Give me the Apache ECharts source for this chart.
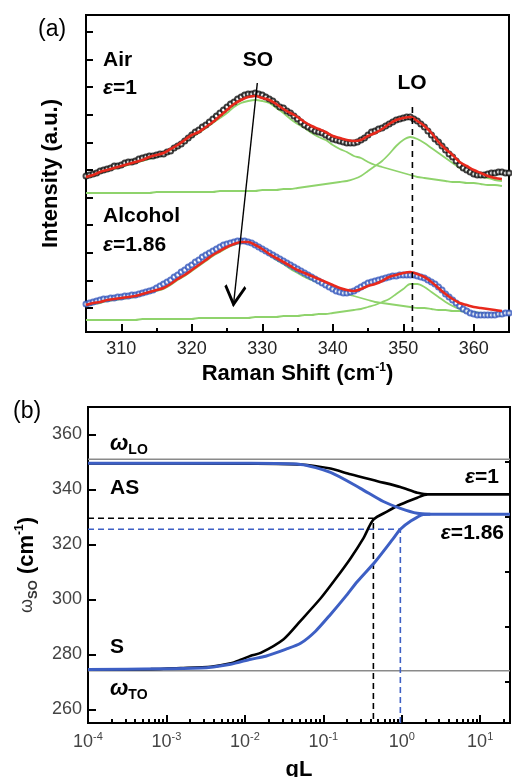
<!DOCTYPE html>
<html><head><meta charset="utf-8">
<script src="https://cdn.jsdelivr.net/npm/echarts@6/dist/echarts.min.js"></script>
<style>html,body{margin:0;padding:0;background:#fff}#c{width:512px;height:777px}</style>
</head><body><div id="c"></div>
<script>
// ---------- Panel (a) data: Raman spectra ----------
const fitShift = [305,306,307,308,309,310,311,312,313,314,315,316,317,318,319,320,321,322,323,324,325,326,327,328,329,330,331,332,333,334,335,336,337,338,339,340,341,342,343,344,345,346,347,348,349,350,351,352,353,354,355,356,357,358,359,360,361,362,363,364];
const dataShift = [305,305.5,306,306.5,307,307.5,308,308.5,309,309.5,310,310.5,311,311.5,312,312.5,313,313.5,314,314.5,315,315.5,316,316.5,317,317.5,318,318.5,319,319.5,320,320.5,321,321.5,322,322.5,323,323.5,324,324.5,325,325.5,326,326.5,327,327.5,328,328.5,329,329.5,330,330.5,331,331.5,332,332.5,333,333.5,334,334.5,335,335.5,336,336.5,337,337.5,338,338.5,339,339.5,340,340.5,341,341.5,342,342.5,343,343.5,344,344.5,345,345.5,346,346.5,347,347.5,348,348.5,349,349.5,350,350.5,351,351.5,352,352.5,353,353.5,354,354.5,355,355.5,356,356.5,357,357.5,358,358.5,359,359.5,360,360.5,361,361.5,362,362.5,363,363.5,364,364.5,365];

const airData = [156,157,158,159,161,162,163,164,166,166,167,169,170,170,171,173,174,175,176,176,177,178,178,180,181,184,186,188,191,194,197,200,202,205,207,210,213,216,219,222,225,228,230,233,235,237,238,238,239,238,237,235,233,231,228,225,224,221,219,216,213,210,207,205,203,201,200,199,197,195,193,192,191,190,189,189,189,190,192,194,197,200,201,203,204,206,208,210,212,213,214,215,215,213,211,208,205,201,197,193,190,186,182,178,175,171,167,164,162,160,158,157,157,157,158,159,159,160,160,159,159];
const airFit = [155,157,160,162,164,166,168,170,172,175,177,179,183,187,192,197,200,205,210,216,222,228,232,235,236,234,232,228,223,219,215,210,206,203,200,196,194,192,191,192,196,199,203,208,212,214,215,211,206,199,190,183,177,170,166,162,159,156,154,153];
const airSO = [154,156,159,161,163,165,167,169,171,173,175,178,181,185,190,195,199,204,209,214,219,225,229,231,232,231,229,224,219,213,208,204,199,195,192,187,183,180,176,174,170,167,165,163,161,159,157,155,154,153,152,151,150,150,149,149,148,147,147,146];
const airLO = [139,139,139,139,139,139,139,139,139,139,140,140,140,140,140,140,140,140,140,141,141,141,141,141,141,142,142,142,143,143,144,145,146,147,148,149,150,151,153,156,161,166,171,178,186,192,195,193,189,184,179,174,169,164,161,158,155,154,152,151];

const alcData = [28,29,30,31,32,33,33,34,34,35,35,36,36,37,37,38,39,40,41,42,44,46,48,50,52,55,57,60,62,65,67,70,72,75,77,79,81,83,85,87,88,89,90,91,91,91,90,89,87,85,83,81,79,77,75,73,71,69,67,65,63,61,59,57,55,53,51,49,47,45,43,41,40,39,39,40,41,43,45,47,49,50,51,52,53,54,55,56,56,57,57,57,57,57,56,55,54,52,50,48,45,42,38,35,32,29,26,23,21,19,18,17,17,17,17,17,17,18,18,19,19];
const alcFit = [27,29,30,32,33,34,35,36,38,40,42,44,48,53,57,62,67,72,77,81,85,88,90,90,87,83,78,74,70,66,62,59,56,53,50,47,44,42,41,43,46,48,51,55,57,59,60,58,55,50,44,38,33,29,27,25,24,23,22,21];
const alcSO = [26,28,29,31,32,33,34,35,37,39,41,43,47,52,56,61,66,71,76,80,84,87,89,89,86,82,77,72,68,63,59,55,52,49,46,43,41,38,36,34,32,30,29,28,27,26,25,24,24,23,22,22,21,21,20,20,19,18,18,17];
const alcLO = [12,12,12,12,12,12,12,12,13,13,13,13,13,13,13,13,14,14,14,14,14,14,14,14,15,15,15,15,16,16,16,17,17,18,18,19,20,21,22,23,25,27,30,33,38,43,48,48,45,40,35,30,26,23,21,19,18,17,17,16];

const xLabelsA = [310,320,330,340,350,360];
const xMinorA = [305,315,325,335,345,355,365];
const yTicksA = [24,51.6,79.2,106.8,134.4,162,189.6,217.2,244.8,272.4,300];
const loLineShift = 351.3, loLineTop = 225;
const arrowStart = [329.3, 249], arrowEnd = [325.9, 26];

// ---------- Panel (b) data: dispersion ----------
const qlBlackAS = [0.0001,0.0119,0.0513,0.1235,0.222,0.49,0.96,1.58,2.12];
const wBlackAS  = [349.5,349.4,349.1,347.6,345.5,343,340.9,338.8,338.2];
const qlBlackS  = [0.0001,0.00063,0.00152,0.00367,0.0066,0.00885,0.0119,0.0159,0.0312,0.0513,0.092,0.143,0.222,0.324,0.435,0.656,0.96,1.58,2.12,24];
const wBlackS   = [274.5,274.6,275,275.5,276.7,278,279.5,280.5,285.5,292.2,300.3,307.4,314.9,322.2,329,332,334.5,337,338.2,338.2];
const qlBlueAS  = [0.0001,0.0119,0.0513,0.1235,0.297,0.583,0.96,1.58,2.31];
const wBlueAS   = [349.5,349.5,349.1,346.2,340.4,335.6,333.1,331.3,331];
const qlBlueS   = [0.0001,0.00274,0.0066,0.0119,0.0184,0.033,0.0513,0.0796,0.1235,0.1915,0.272,0.461,0.782,0.96,1.29,1.88,2.31,24];
const wBlueS    = [274.5,275,276.4,278.2,279.3,281.8,284,288.4,294.5,301,306.5,313.8,322.2,325.5,328.4,330.9,331,331];
const wLO = 351, wTO = 274;
const qlEps1 = 0.435, wEps1 = 329.5;
const qlEps186 = 0.96, wEps186 = 325.5;
const qlMin = 0.0001, qlMax = 24, wMin = 255, wMax = 370;
const yLabelsB = [260,280,300,320,340,360];
const yMinorB = [270,290,310,330,350];
const decadeExps = [-4,-3,-2,-1,0,1];
const minorQL = [2e-4,3e-4,4e-4,5e-4,6e-4,7e-4,8e-4,9e-4,2e-3,3e-3,4e-3,5e-3,6e-3,7e-3,8e-3,9e-3,0.02,0.03,0.04,0.05,0.06,0.07,0.08,0.09,0.2,0.3,0.4,0.5,0.6,0.7,0.8,0.9,2,3,4,5,6,7,8,9,20];

// ---------- build ----------
const FONT = '"Liberation Sans", Arial, sans-serif';
const pair = (xs, ys) => xs.map((x, i) => [x, ys[i]]);
const GREEN = '#8fd36c', RED = '#e8291c', BLUE = '#3557bd', BLUE2 = '#3d5fc4';

const chart = echarts.init(document.getElementById('c'), null, {renderer: 'canvas'});

function lineS(xi, yi, data, color, width, z, extra) {
  return Object.assign({type: 'line', xAxisIndex: xi, yAxisIndex: yi, data: data, showSymbol: false, symbol: 'none',
    lineStyle: {color: color, width: width}, itemStyle: {color: color}, z: z, silent: true, animation: false}, extra || {});
}
function scat(data, color) {
  return {type: 'scatter', xAxisIndex: 0, yAxisIndex: 0, data: data, symbol: 'emptyCircle', symbolSize: 5,
    itemStyle: {color: color, borderColor: color, borderWidth: 1.1}, z: 3, silent: true, animation: false};
}
const sup = {fontSize: 12, fontFamily: FONT, fontWeight: 'bold', verticalAlign: 'top', color: '#000'};
const chevron = 'path://M10,12 L20,24 L18.2,25.4 L10,15.6 L1.8,25.4 L0,24 Z M10,0 L10.01,0 L10,0.01 Z';
const noZero = {show: true, onZero: false, lineStyle: {color: '#000', width: 2}};
const hiddenLine = {show: false, onZero: false};

const option = {
  animation: false,
  backgroundColor: '#fff',
  textStyle: {fontFamily: FONT},
  grid: [
    {left: 86, top: 15, width: 423, height: 317, show: true, borderColor: '#000', borderWidth: 2, outerBoundsMode: 'none', containLabel: false},
    {left: 88, top: 407, width: 422, height: 316, show: true, borderColor: '#000', borderWidth: 2, outerBoundsMode: 'none', containLabel: false}
  ],
  xAxis: [
    {gridIndex: 0, type: 'value', min: 305, max: 365, position: 'bottom',
      axisLine: noZero,
      axisTick: {show: true, inside: true, length: 8, customValues: xLabelsA, lineStyle: {color: '#000', width: 2}},
      axisLabel: {show: true, customValues: xLabelsA, fontSize: 18, color: '#222', margin: 8, fontFamily: FONT},
      splitLine: {show: false},
      name: '{n|Raman Shift (cm}{s|-1}{n|)}', nameLocation: 'middle', nameGap: 30,
      nameTextStyle: {rich: {n: {fontSize: 22, fontWeight: 'bold', fontFamily: FONT, color: '#000', lineHeight: 24}, s: Object.assign({}, sup, {fontSize: 12})}}},
    {gridIndex: 0, type: 'value', min: 305, max: 365, position: 'bottom',
      axisLine: hiddenLine, axisLabel: {show: false}, splitLine: {show: false},
      axisTick: {show: true, inside: true, length: 4, customValues: xMinorA, lineStyle: {color: '#000', width: 2}}},
    {gridIndex: 1, type: 'log', logBase: 10, min: qlMin, max: qlMax, position: 'bottom',
      axisLine: noZero,
      axisTick: {show: false}, axisLabel: {show: false}, splitLine: {show: false}, minorTick: {show: false}, minorSplitLine: {show: false},
      name: 'qL', nameLocation: 'middle', nameGap: 36,
      nameTextStyle: {fontSize: 22, fontWeight: 'bold', fontFamily: FONT, color: '#000'}},
    {gridIndex: 1, type: 'value', min: Math.log10(qlMin), max: Math.log10(qlMax), position: 'bottom',
      axisLine: hiddenLine, splitLine: {show: false},
      axisTick: {show: true, inside: true, length: 8, customValues: decadeExps, lineStyle: {color: '#000', width: 2}},
      axisLabel: {show: true, customValues: decadeExps, margin: 8,
        formatter: v => '{b|10}{e|' + Math.round(v) + '}',
        rich: {b: {fontSize: 18, fontFamily: FONT, color: '#444', lineHeight: 22}, e: {fontSize: 11, fontFamily: FONT, color: '#444', verticalAlign: 'top'}}}},
    {gridIndex: 1, type: 'value', min: Math.log10(qlMin), max: Math.log10(qlMax), position: 'bottom',
      axisLine: hiddenLine, splitLine: {show: false}, axisLabel: {show: false},
      axisTick: {show: true, inside: true, length: 4, customValues: minorQL.map(q => Math.log10(q)), lineStyle: {color: '#000', width: 2}}}
  ],
  yAxis: [
    {gridIndex: 0, type: 'value', min: 0, max: 317,
      axisLine: noZero,
      axisTick: {show: true, inside: true, length: 7, customValues: yTicksA, lineStyle: {color: '#000', width: 2}},
      axisLabel: {show: false}, splitLine: {show: false},
      name: 'Intensity (a.u.)', nameLocation: 'middle', nameGap: 24, nameRotate: 90,
      nameTextStyle: {fontSize: 22, fontWeight: 'bold', fontFamily: FONT, color: '#000'}},
    {gridIndex: 1, type: 'value', min: wMin, max: wMax,
      axisLine: noZero,
      axisTick: {show: true, inside: true, length: 8, customValues: yLabelsB, lineStyle: {color: '#000', width: 2}},
      axisLabel: {show: true, customValues: yLabelsB, fontSize: 18, color: '#444', margin: 6, fontFamily: FONT},
      splitLine: {show: false},
      name: '{w|ω}{s|SO}{n| (cm}{p|-1}{n|)}', nameLocation: 'middle', nameGap: 48, nameRotate: 90,
      nameTextStyle: {rich: {
        w: {fontSize: 18, fontFamily: FONT, color: '#333', lineHeight: 26},
        s: {fontSize: 13, fontFamily: FONT, fontWeight: 'bold', color: '#333', verticalAlign: 'bottom'},
        n: {fontSize: 22, fontFamily: FONT, fontWeight: 'bold', color: '#000', lineHeight: 26},
        p: Object.assign({}, sup, {fontSize: 12})}}},
    {gridIndex: 1, type: 'value', min: wMin, max: wMax,
      axisLine: hiddenLine, axisLabel: {show: false}, splitLine: {show: false},
      axisTick: {show: true, inside: true, length: 5, customValues: yMinorB, lineStyle: {color: '#000', width: 2}}}
  ],
  series: [
    // panel a
    lineS(0, 0, pair(fitShift, airSO), GREEN, 1.8, 1, {smooth: 0.3}),
    lineS(0, 0, pair(fitShift, airLO), GREEN, 1.8, 1, {smooth: 0.3}),
    lineS(0, 0, pair(fitShift, alcSO), GREEN, 1.8, 1, {smooth: 0.3}),
    lineS(0, 0, pair(fitShift, alcLO), GREEN, 1.8, 1, {smooth: 0.3}),
    scat(pair(dataShift, airData), '#111'),
    scat(pair(dataShift, alcData), BLUE),
    lineS(0, 0, pair(fitShift, airFit), RED, 2.6, 4, {smooth: 0.3}),
    lineS(0, 0, pair(fitShift, alcFit), RED, 2.6, 4, {smooth: 0.3}),
    lineS(0, 0, [[loLineShift, loLineTop], [loLineShift, 0]], '#000', 1.6, 5, {lineStyle: {color: '#000', width: 1.6, type: [6, 5]}}),
    lineS(0, 0, [arrowStart, arrowEnd], '#000', 0, 5, {lineStyle: {width: 0, opacity: 0},
      markLine: {silent: true, symbol: ['none', chevron], symbolSize: [22, 42], label: {show: false},
        lineStyle: {color: '#000', width: 1.4, type: 'solid'}, emphasis: {disabled: true},
        data: [[{coord: arrowStart}, {coord: arrowEnd}]]}}),
    // panel b
    lineS(2, 1, [[qlMin, wLO], [qlMax, wLO]], '#8a8a8a', 1.6, 1),
    lineS(2, 1, [[qlMin, wTO], [qlMax, wTO]], '#8a8a8a', 1.6, 1),
    lineS(2, 1, [[qlMin, wEps1], [qlEps1, wEps1], [qlEps1, wMin]], '#000', 1.6, 2, {lineStyle: {color: '#000', width: 1.6, type: [6, 4]}}),
    lineS(2, 1, [[qlMin, wEps186], [qlEps186, wEps186], [qlEps186, wMin]], BLUE2, 1.6, 2, {lineStyle: {color: BLUE2, width: 1.6, type: [6, 4]}}),
    lineS(2, 1, pair(qlBlackAS, wBlackAS), '#000', 2.6, 3, {smooth: 0.25}),
    lineS(2, 1, pair(qlBlackS, wBlackS), '#000', 2.6, 3, {smooth: 0.25}),
    lineS(2, 1, pair(qlBlueAS, wBlueAS), BLUE2, 3, 4, {smooth: 0.25}),
    lineS(2, 1, pair(qlBlueS, wBlueS), BLUE2, 3, 4, {smooth: 0.25})
  ],
  graphic: (function () {
    const T = (x, y, text, opt) => ({type: 'text', x: x, y: y, silent: true, z: 100,
      style: Object.assign({text: text, fontFamily: FONT, fontSize: 21, fontWeight: 'bold', fill: '#000', textAlign: 'left', textVerticalAlign: 'middle'}, opt || {})});
    const epsRich = {e: {fontSize: 21, fontWeight: 'bold', fontStyle: 'italic', fontFamily: FONT}, n: {fontSize: 21, fontWeight: 'bold', fontFamily: FONT}};
    const omegaRich = {w: {fontSize: 22, fontWeight: 'bold', fontStyle: 'italic', fontFamily: FONT, lineHeight: 26}, s: {fontSize: 14, fontWeight: 'bold', fontFamily: FONT, verticalAlign: 'bottom'}};
    return [
      T(38, 30, '(a)', {fontWeight: 'normal', fontSize: 23}),
      T(103, 60, 'Air'),
      T(103, 88, '{e|ε}{n|=1}', {rich: epsRich}),
      T(258, 60, 'SO', {textAlign: 'center'}),
      T(412, 83, 'LO', {textAlign: 'center'}),
      T(103, 216, 'Alcohol'),
      T(103, 245, '{e|ε}{n|=1.86}', {rich: epsRich}),
      T(13, 412, '(b)', {fontWeight: 'normal', fontSize: 23}),
      T(110, 444, '{w|ω}{s|LO}', {rich: omegaRich}),
      T(110, 488, 'AS'),
      T(110, 647, 'S'),
      T(110, 689, '{w|ω}{s|TO}', {rich: omegaRich}),
      T(499, 477, '{e|ε}{n|=1}', {rich: epsRich, textAlign: 'right'}),
      T(504, 533, '{e|ε}{n|=1.86}', {rich: epsRich, textAlign: 'right'})
    ];
  })()
};
chart.setOption(option);
</script></body></html>
